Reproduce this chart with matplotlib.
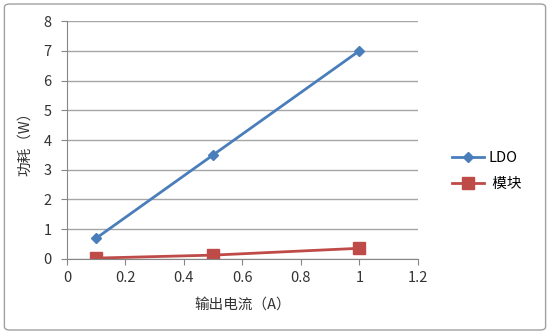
import matplotlib.pyplot as plt
from matplotlib.patches import FancyBboxPatch

plt.rcParams['font.family'] = ['Noto Sans CJK SC', 'DejaVu Sans']

current = [0.1, 0.5, 1.0]
ldo_power = [0.7, 3.5, 7.0]
module_power = [0.03, 0.13, 0.36]
series_names = ["LDO", " 模块"]

BLUE = "#4A7EBB"
RED = "#BE4B48"
GRID = "#A6A6A6"

fig = plt.figure(figsize=(5.5, 3.34), dpi=100)
fig.patch.set_facecolor("white")

# outer chart border
border = FancyBboxPatch((0.008, 0.012), 0.984, 0.976, boxstyle="round,pad=0,rounding_size=0.01",
                        transform=fig.transFigure, fill=False, edgecolor="#A0A0A0", lw=1.0)
fig.patches.append(border)

ax = fig.add_axes([0.1218, 0.2246, 0.638, 0.7124])
ax.plot(current, ldo_power, color=BLUE, lw=2, marker="D", ms=5, label=series_names[0])
ax.plot(current, module_power, color=RED, lw=2, marker="s", ms=8, label=series_names[1])

ax.set_xlim(0, 1.2)
ax.set_ylim(0, 8)
ax.set_xticks([0, 0.2, 0.4, 0.6, 0.8, 1.0, 1.2])
ax.set_xticklabels(["0", "0.2", "0.4", "0.6", "0.8", "1", "1.2"])
ax.set_yticks(range(0, 9))
ax.yaxis.grid(True, color=GRID, lw=1)
ax.set_axisbelow(True)
for side in ("top", "right"):
    ax.spines[side].set_visible(False)
for side in ("left", "bottom"):
    ax.spines[side].set_color("#868686")
ax.tick_params(axis="both", colors="#868686", labelcolor="#333333", labelsize=10.5, length=4)
ax.tick_params(axis="x", pad=5)
ax.tick_params(axis="y", pad=7)

ax.set_xlabel("输出电流（A）", fontsize=10.5, color="#333333", labelpad=9)
ax.set_ylabel("功耗（W）", fontsize=10.5, color="#333333", labelpad=8)

ax.legend(loc="center left", bbox_to_anchor=(1.06, 0.37), frameon=False, fontsize=10.5,
          handlelength=2.2, labelspacing=0.8, handletextpad=0.3)

fig.savefig("out.png", dpi=100)
